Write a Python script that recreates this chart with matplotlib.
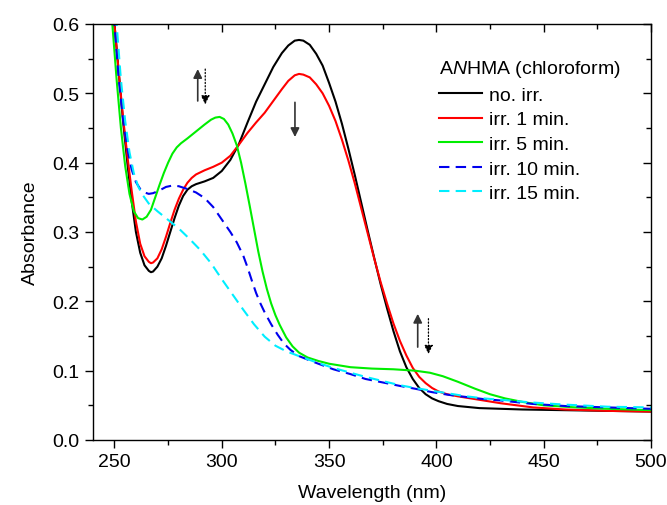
import matplotlib
matplotlib.use("Agg")
import matplotlib.pyplot as plt
from matplotlib.ticker import MultipleLocator

plt.rcParams['font.family'] = ['Liberation Sans', 'DejaVu Sans']
plt.rcParams['mathtext.fontset'] = 'custom'
plt.rcParams['mathtext.rm'] = 'Liberation Sans'
plt.rcParams['mathtext.it'] = 'Liberation Sans:italic'

# ---- data ----
x_black = [248, 250, 252, 254, 256, 258, 260, 262, 264, 266, 267, 268, 270, 272, 274, 276, 278, 280,
           282, 284, 286, 288, 290, 292, 296, 300, 304, 308, 312, 316, 320, 324, 328, 331, 334, 336,
           338, 341, 344, 347, 350, 353, 356, 359, 362, 365, 368, 371, 374, 377, 380, 383, 386, 389,
           392, 395, 398, 401, 405, 410, 420, 440, 460, 480, 500]
y_black = [0.70, 0.60, 0.53, 0.46, 0.40, 0.345, 0.30, 0.27, 0.252, 0.244, 0.242, 0.243, 0.25, 0.262,
           0.28, 0.30, 0.32, 0.338, 0.352, 0.361, 0.366, 0.369, 0.371, 0.373, 0.378, 0.388, 0.404,
           0.427, 0.458, 0.488, 0.513, 0.538, 0.558, 0.569, 0.576, 0.577, 0.576, 0.570, 0.557, 0.54,
           0.515, 0.488, 0.456, 0.42, 0.382, 0.342, 0.302, 0.263, 0.225, 0.19, 0.157, 0.128, 0.105,
           0.088, 0.075, 0.066, 0.06, 0.056, 0.052, 0.049, 0.046, 0.044, 0.043, 0.042, 0.041]

x_red = [248, 250, 252, 254, 256, 258, 260, 262, 264, 266, 267, 268, 270, 272, 274, 276, 278, 280,
         282, 284, 286, 288, 290, 292, 296, 300, 304, 308, 312, 316, 320, 324, 328, 331, 334, 336,
         338, 341, 344, 347, 350, 353, 356, 359, 362, 365, 368, 371, 374, 377, 380, 383, 386, 389,
         392, 395, 398, 401, 405, 410, 420, 430, 445, 460, 480, 500]
y_red = [0.70, 0.60, 0.53, 0.465, 0.41, 0.36, 0.315, 0.283, 0.265, 0.257, 0.255, 0.256, 0.262, 0.275,
         0.293, 0.313, 0.332, 0.348, 0.361, 0.371, 0.378, 0.383, 0.386, 0.389, 0.394, 0.40, 0.41,
         0.426, 0.443, 0.458, 0.472, 0.489, 0.506, 0.518, 0.526, 0.528, 0.527, 0.523, 0.513, 0.5,
         0.482, 0.46, 0.433, 0.403, 0.37, 0.334, 0.298, 0.262, 0.228, 0.197, 0.168, 0.143, 0.122,
         0.104, 0.091, 0.082, 0.075, 0.07, 0.066, 0.063, 0.058, 0.053, 0.047, 0.044, 0.042, 0.041]

x_green = [247, 249, 251, 253, 255, 257, 259, 261, 263, 265, 267, 269, 271, 273, 275, 277, 279, 281,
           284, 288, 292, 295, 297, 299, 301, 303, 305, 307, 309, 311, 313, 315, 317, 319, 321, 323,
           325, 327, 330, 333, 336, 340, 345, 350, 360, 370, 380, 390, 397, 403, 410, 418, 425, 432,
           440, 450, 465, 480, 500]
y_green = [0.70, 0.60, 0.52, 0.45, 0.395, 0.355, 0.33, 0.32, 0.318, 0.322, 0.332, 0.35, 0.368,
           0.385, 0.4, 0.413, 0.422, 0.428, 0.435, 0.445, 0.455, 0.462, 0.465, 0.466, 0.463, 0.455,
           0.442, 0.425, 0.4, 0.37, 0.338, 0.305, 0.272, 0.243, 0.218, 0.197, 0.18, 0.166, 0.148,
           0.135, 0.126, 0.119, 0.114, 0.11, 0.105, 0.103, 0.102, 0.1, 0.097, 0.092, 0.084, 0.074,
           0.066, 0.06, 0.055, 0.05, 0.047, 0.045, 0.043]

x_blue = [248, 250, 252, 254, 256, 258, 260, 262, 264, 266, 268, 271, 274, 277, 280, 284, 288, 292,
          296, 300, 304, 307, 310, 312, 314, 316, 318, 320, 323, 326, 329, 332, 336, 340, 345, 352,
          360, 367, 375, 383, 390, 398, 406, 414, 422, 430, 445, 460, 480, 500]
y_blue = [0.70, 0.60, 0.52, 0.463, 0.42, 0.39, 0.372, 0.362, 0.357, 0.355, 0.356, 0.36, 0.365,
          0.367, 0.366, 0.362, 0.357, 0.349, 0.336, 0.318, 0.3, 0.285, 0.266, 0.249, 0.23, 0.212,
          0.197, 0.184, 0.167, 0.152, 0.139, 0.13, 0.121, 0.116, 0.11, 0.102, 0.095, 0.088, 0.083,
          0.078, 0.074, 0.069, 0.065, 0.062, 0.059, 0.057, 0.052, 0.049, 0.047, 0.045]

x_cyan = [249, 251, 253, 255, 257, 259, 261, 263, 266, 270, 274, 280, 285, 290, 295, 300, 305, 310,
          315, 320, 325, 330, 336, 345, 352, 360, 367, 375, 383, 390, 398, 406, 414, 422, 430, 445,
          460, 480, 500]
y_cyan = [0.70, 0.60, 0.52, 0.46, 0.415, 0.385, 0.366, 0.354, 0.341, 0.33, 0.32, 0.305, 0.29,
          0.274, 0.255, 0.232, 0.21, 0.188, 0.167, 0.149, 0.136, 0.128, 0.121, 0.111, 0.104, 0.097,
          0.091, 0.085, 0.079, 0.075, 0.071, 0.067, 0.063, 0.06, 0.058, 0.054, 0.051, 0.048, 0.047]

labels = ["no. irr.", "irr. 1 min.", "irr. 5 min.", "irr. 10 min.", "irr. 15 min."]
legend_title = "A$\\mathit{N}$HMA (chloroform)"

# arrows: x, start y, end y, line style
arrows_x = [288.8, 292.3, 334.1, 391.3, 396.3]
arrows_y0 = [0.489, 0.535, 0.487, 0.134, 0.175]
arrows_y1 = [0.535, 0.484, 0.437, 0.182, 0.124]
arrows_ls = ['-', ':', '-', '-', ':']

# ---- figure ----
fig = plt.figure(figsize=(6.67, 5.06), dpi=100)
ax = fig.add_axes([93/667, 65/506, 558/667, 416/506])

lw = 1.5
ax.plot(x_black, y_black, color='black', lw=lw, label=labels[0])
ax.plot(x_red, y_red, color='#ff0000', lw=lw, label=labels[1])
ax.plot(x_green, y_green, color='#00ee00', lw=lw, label=labels[2])
ax.plot(x_blue, y_blue, color='#0000ee', lw=lw, ls=(0, (5, 3)), label=labels[3])
ax.plot(x_cyan, y_cyan, color='#00eeff', lw=lw, ls=(0, (5, 3)), label=labels[4])

for xa, y0, y1, ls in zip(arrows_x, arrows_y0, arrows_y1, arrows_ls):
    col = 'black' if ls == ':' else '#333333'
    ax.annotate('', xy=(xa, y1), xytext=(xa, y0),
                arrowprops=dict(arrowstyle='-|>', color=col, lw=1.2 if ls == '-' else 0.9,
                                linestyle=ls, mutation_scale=13, shrinkA=0, shrinkB=0))

ax.set_xlim(240, 500)
ax.set_ylim(0.0, 0.6)
ax.xaxis.set_major_locator(MultipleLocator(50))
ax.xaxis.set_minor_locator(MultipleLocator(25))
ax.yaxis.set_major_locator(MultipleLocator(0.1))
ax.yaxis.set_minor_locator(MultipleLocator(0.05))
ax.yaxis.set_major_formatter(plt.FuncFormatter(lambda v, p: f"{v:.1f}"))

fs = 14
ax.tick_params(axis='both', which='both', labelsize=fs, width=1.0, direction='out')
ax.tick_params(axis='both', which='major', length=6)
ax.tick_params(axis='both', which='minor', length=3.5)
ax.tick_params(axis='x', which='both', top=True, bottom=True)
ax.tick_params(axis='y', which='both', right=True, left=True)
for t in ax.xaxis.get_major_ticks() + ax.xaxis.get_minor_ticks():
    t.tick2line.set_marker(3)  # inward on top
for t in ax.yaxis.get_major_ticks() + ax.yaxis.get_minor_ticks():
    t.tick2line.set_marker(0)  # inward on right
for s in ax.spines.values():
    s.set_linewidth(1.0)

ax.set_xlabel("Wavelength (nm)", fontsize=fs, labelpad=10)
ax.set_ylabel("Absorbance", fontsize=fs, labelpad=10)

leg = ax.legend(loc='upper left', bbox_to_anchor=(0.62, 0.918), frameon=False, fontsize=fs,
                title=legend_title, title_fontsize=fs, handlelength=2.2, handletextpad=0.35,
                labelspacing=0.36, borderpad=0, borderaxespad=0, alignment='left')

fig.savefig("out.png", dpi=100)
